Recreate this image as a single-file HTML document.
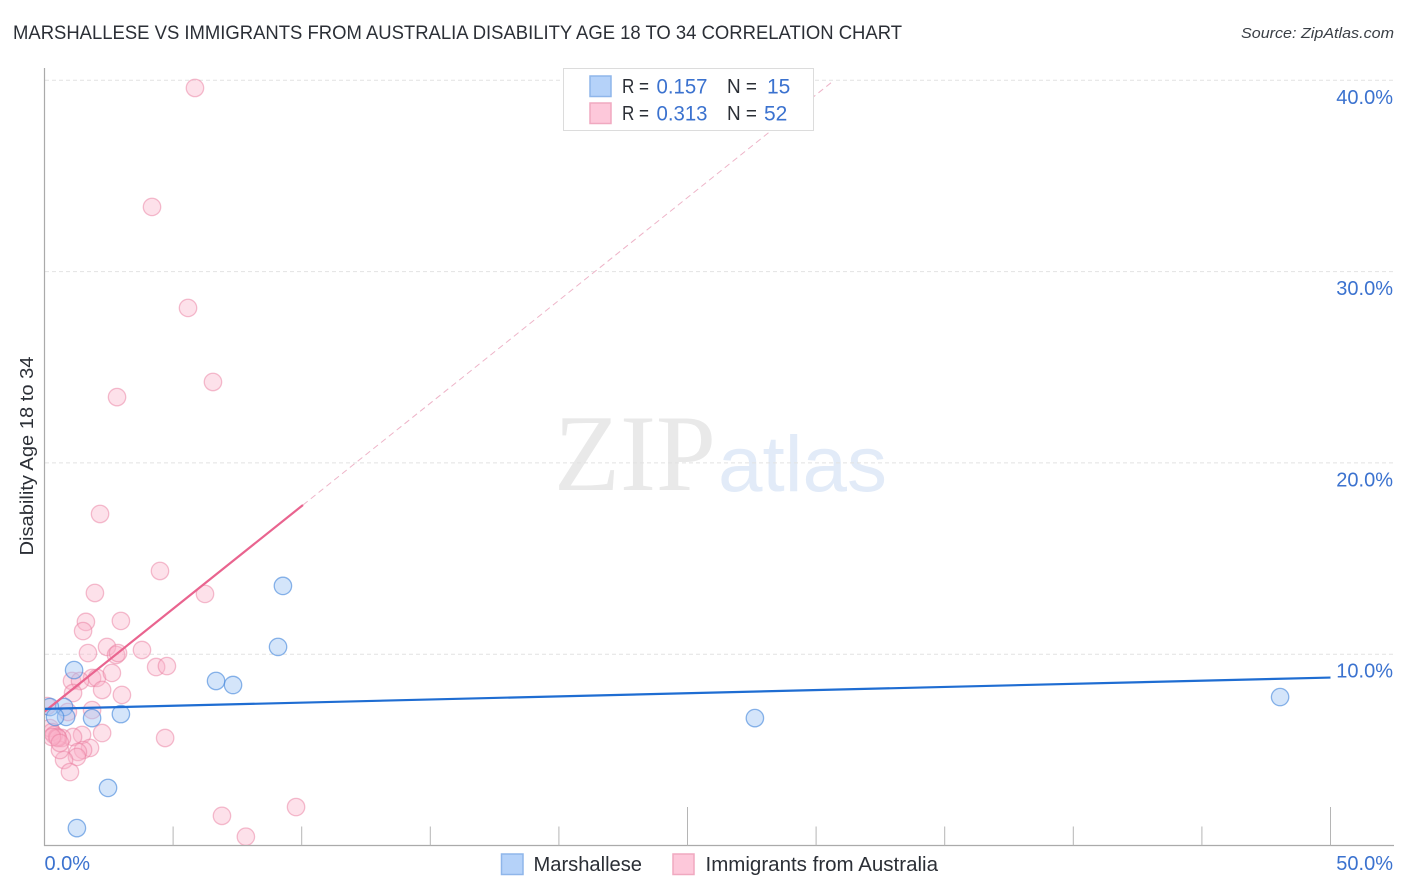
<!DOCTYPE html>
<html lang="en">
<head>
<meta charset="utf-8">
<title>Marshallese vs Immigrants from Australia Disability Age 18 to 34 Correlation Chart</title>
<style>
html,body{margin:0;padding:0;background:#fff;width:1406px;height:892px;overflow:hidden}
svg{display:block}
text{font-family:"Liberation Sans",Arial,sans-serif}
</style>
</head>
<body>
<svg id="chart" xmlns="http://www.w3.org/2000/svg" width="1406" height="892" viewBox="0 0 1406 892">
  <defs><clipPath id="plot-clip"><rect x="45" y="60" width="1350" height="785"/></clipPath></defs>
  <text x="13" y="39" font-size="19" fill="#2b2f36" textLength="889" lengthAdjust="spacingAndGlyphs">MARSHALLESE VS IMMIGRANTS FROM AUSTRALIA DISABILITY AGE 18 TO 34 CORRELATION CHART</text>
  <text x="1394" y="38" font-size="15" font-style="italic" fill="#3a3f46" text-anchor="end" textLength="153" lengthAdjust="spacingAndGlyphs">Source: ZipAtlas.com</text>
  <g>
    <text x="554" y="490" style="font-family:'Liberation Serif',serif" font-size="109" fill="#e9e9e9" textLength="162" lengthAdjust="spacingAndGlyphs">ZIP</text>
    <text x="718" y="491" font-size="79" fill="#e2ebf8" textLength="169" lengthAdjust="spacingAndGlyphs">atlas</text>
  </g>
  <g id="grid"></g>
  <g id="axes"></g>
  <g id="marks" clip-path="url(#plot-clip)"></g>
  <text transform="translate(33,456) rotate(-90)" font-size="18" fill="#2b2f36" text-anchor="middle" textLength="199" lengthAdjust="spacingAndGlyphs">Disability Age 18 to 34</text>
  <g>
    <rect x="563.5" y="68.5" width="250" height="62" fill="#fff" stroke="#dcdcdc"/>
    <rect x="590" y="76" width="21" height="20.500" fill="#b5d2f9" stroke="#8fb6ea" stroke-width="1.500"/>
    <rect x="590" y="103" width="21" height="20.500" fill="#fdc8da" stroke="#f0a9c0" stroke-width="1.500"/>
    <g font-size="20" fill="#2b2f36">
      <text x="622" y="93" textLength="27" lengthAdjust="spacingAndGlyphs">R =</text>
      <text x="622" y="120" textLength="27" lengthAdjust="spacingAndGlyphs">R =</text>
      <text x="727" y="93" textLength="30" lengthAdjust="spacingAndGlyphs">N =</text>
      <text x="727" y="120" textLength="30" lengthAdjust="spacingAndGlyphs">N =</text>
    </g>
    <g font-size="21" fill="#3b72cf">
      <text x="656.500" y="93.500" textLength="51" lengthAdjust="spacingAndGlyphs">0.157</text>
      <text x="656.500" y="120.500" textLength="51" lengthAdjust="spacingAndGlyphs">0.313</text>
      <text x="767" y="93.500">15</text>
      <text x="764" y="120.500">52</text>
    </g>
  </g>
  <g>
    <rect x="501.500" y="854" width="21.500" height="20.500" fill="#b5d2f9" stroke="#8fb6ea" stroke-width="1.500"/>
    <text x="533.500" y="871" font-size="20" fill="#2b2f36" textLength="108.500" lengthAdjust="spacingAndGlyphs">Marshallese</text>
    <rect x="673" y="854" width="21" height="20.500" fill="#fdc8da" stroke="#f0a9c0" stroke-width="1.500"/>
    <text x="705.500" y="871" font-size="20" fill="#2b2f36" textLength="232.500" lengthAdjust="spacingAndGlyphs">Immigrants from Australia</text>
  </g>
</svg>
<script>
const xTicks = [0, 5, 10, 15, 20, 25, 30, 35, 40, 45, 50];
const xMajorTicks = [25, 50];
const xTickLabels = ["0.0%", "50.0%"];
const yTicks = [10, 20, 30, 40];
const yTickLabels = ["10.0%", "20.0%", "30.0%", "40.0%"];

const marshalleseX = [9.27, 9.08, 6.67, 7.33, 27.62, 48.04, 2.97, 1.85, 1.15, 2.47, 1.26, 0.76, 0.84, 0.21, 0.41];
const marshalleseY = [13.57, 10.38, 8.60, 8.39, 6.66, 7.76, 6.87, 6.66, 9.17, 3.01, 0.91, 7.24, 6.72, 7.24, 6.72];

const australiaX = [5.85, 4.18, 5.58, 6.55, 2.82, 2.16, 4.49, 1.96, 6.24, 2.97, 1.61, 1.5, 2.43, 3.79, 1.69, 2.78, 2.86, 4.34, 4.76, 1.85, 2.04, 2.62, 1.07, 1.38, 1.11, 2.24, 3.01, 1.85, 0.91, 2.24, 4.69, 1.46, 1.11, 0.68, 1.77, 1.5, 1.3, 1.26, 0.76, 0.99, 0.6, 6.9, 9.78, 7.83, 0.1, 0.21, 0.29, 0.37, 0.49, 0.52, 0.29, 0.6];
const australiaY = [39.6, 33.38, 28.1, 24.23, 23.44, 17.33, 14.35, 13.2, 13.15, 11.74, 11.69, 11.21, 10.38, 10.22, 10.06, 9.96, 10.06, 9.33, 9.38, 8.76, 8.76, 9.02, 8.6, 8.6, 7.97, 8.13, 7.87, 7.08, 6.98, 5.88, 5.62, 5.78, 5.67, 5.62, 5.1, 4.99, 4.89, 4.63, 4.47, 3.84, 4.99, 1.55, 2.01, 0.46, 7.29, 6.14, 5.93, 5.78, 5.67, 5.62, 5.67, 5.36];

const marshalleseTrendX = [0, 50];
const marshalleseTrendY = [7.14, 8.78];
const australiaTrendX = [0, 10.05];
const australiaTrendY = [7.0, 17.8];
const australiaDashX = [10.05, 30.7];
const australiaDashY = [17.8, 40.0];

const svgNS = "http://www.w3.org/2000/svg";
const xScale = function (v) { return 44.5 + v * 25.72; };
const yScale = function (v) { return 845.5 - v * 19.13; };
function make(tag, attrs, parent) {
  const el = document.createElementNS(svgNS, tag);
  for (const k in attrs) { el.setAttribute(k, attrs[k]); }
  parent.appendChild(el);
  return el;
}

const grid = document.getElementById("grid");
const axes = document.getElementById("axes");
const marks = document.getElementById("marks");

yTicks.forEach(function (t, i) {
  const line = make("line", {x1: 45, x2: 1394, y1: yScale(t), y2: yScale(t), stroke: "#e2e2e2", "stroke-width": 1, "stroke-dasharray": "4 3"}, grid);
  
  
  const label = make("text", {x: 1393, y: yScale(t) + 23.5, "text-anchor": "end", "font-size": 20, fill: "#3b72cf"}, axes);
  label.textContent = yTickLabels[i];
  
  
});

const yAxisLine = make("line", {x1: 44.5, x2: 44.5, y1: 68, y2: 846, stroke: "#aaaaaa", "stroke-width": 1.2}, axes);


const xAxisLine = make("line", {x1: 44, x2: 1394, y1: 845.5, y2: 845.5, stroke: "#aaaaaa", "stroke-width": 1.2}, axes);



xTicks.slice(1).forEach(function (t) {
  const top = xMajorTicks.indexOf(t) >= 0 ? 807 : 826.500;
  const tick = make("line", {x1: xScale(t), x2: xScale(t), y1: top, y2: 845.5, stroke: "#b5b5b5", "stroke-width": 1}, axes);
  
  
});

const xLabelLeft = make("text", {x: xScale(xTicks[0]), y: 870, "font-size": 20, fill: "#3b72cf"}, axes);
xLabelLeft.textContent = xTickLabels[0];


const xLabelRight = make("text", {x: 1393, y: 870, "text-anchor": "end", "font-size": 20, fill: "#3b72cf"}, axes);
xLabelRight.textContent = xTickLabels[1];



australiaX.forEach(function (x, i) {
  const c = make("circle", {cx: xScale(x), cy: yScale(australiaY[i]), r: 8.7, fill: "rgba(249,176,200,0.38)", stroke: "rgba(234,125,160,0.5)", "stroke-width": 1.3}, marks);
  
  
});
marshalleseX.forEach(function (x, i) {
  const c = make("circle", {cx: xScale(x), cy: yScale(marshalleseY[i]), r: 8.7, fill: "rgba(160,198,245,0.45)", stroke: "rgba(70,135,220,0.62)", "stroke-width": 1.3}, marks);
  
  
});

const dash = make("line", {x1: xScale(australiaDashX[0]), y1: yScale(australiaDashY[0]), x2: xScale(australiaDashX[1]), y2: yScale(australiaDashY[1]), stroke: "#eeb4c8", "stroke-width": 1, "stroke-dasharray": "6 4"}, marks);


const trendA = make("line", {x1: xScale(australiaTrendX[0]), y1: yScale(australiaTrendY[0]), x2: xScale(australiaTrendX[1]), y2: yScale(australiaTrendY[1]), stroke: "#e9648f", "stroke-width": 2.2}, marks);


const trendM = make("line", {x1: xScale(marshalleseTrendX[0]), y1: yScale(marshalleseTrendY[0]), x2: xScale(marshalleseTrendX[1]), y2: yScale(marshalleseTrendY[1]), stroke: "#1f6dd2", "stroke-width": 2.2}, marks);


</script>
</body>
</html>
